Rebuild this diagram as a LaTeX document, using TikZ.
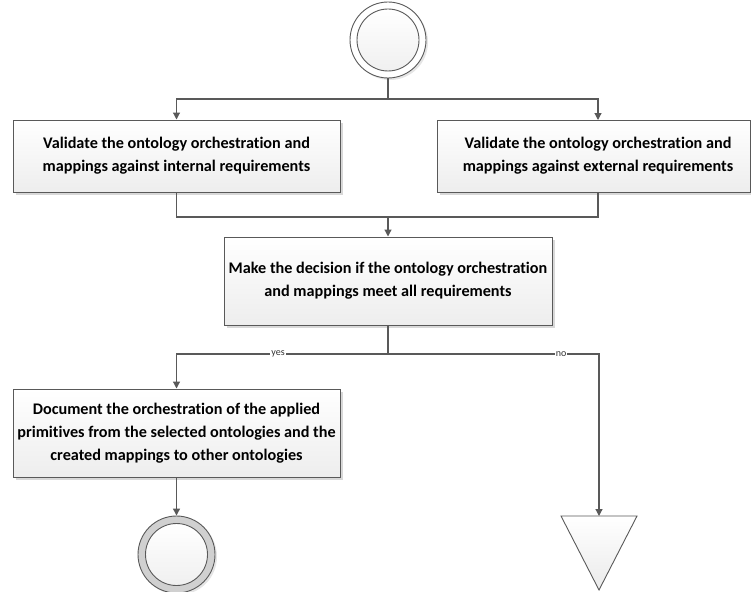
\documentclass[tikz,border=0pt]{standalone}
\usepackage{fontspec}
\setmainfont{Carlito}[Ligatures=NoCommon]
\usetikzlibrary{arrows.meta,shadows}
\definecolor{linegray}{HTML}{595959}
\definecolor{ringgray}{HTML}{D0D0D0}
\begin{document}
\begin{tikzpicture}[x=1pt,y=-1pt,
  line/.style={draw=linegray, line width=1.2pt},
  flow/.style={line, -{Triangle[length=7pt,width=7pt]}},
  task/.style={draw=linegray, line width=1pt,
    top color=white, bottom color=black!7,
    font=\bfseries\fontsize{16.2}{23}\selectfont, align=center, inner sep=0pt,
    drop shadow={shadow xshift=2.5pt, shadow yshift=-2.5pt, fill=black!30, opacity=0.5}},
  disc/.style={circle, draw=linegray, line width=0.9pt, inner sep=0pt},
  edgelabel/.style={font=\fontsize{10}{11}\selectfont, fill=white, inner sep=1pt, text=black!80}
]
\useasboundingbox (0,0) rectangle (751,591);

% initial node
\node[disc, minimum size=76pt, fill=white,
  drop shadow={shadow xshift=2pt, shadow yshift=-2pt, fill=black!25, opacity=0.4}] (start) at (388,40) {};
\node[disc, minimum size=62pt, top color=white, bottom color=black!6] (startin) at (start) {};

% activities
\node[task, minimum width=327pt, minimum height=72pt] (v1) at (176.5,156)
  {Validate the ontology orchestration and\\mappings against internal requirements};
\node[task, minimum width=313pt, minimum height=72pt] (v2) at (593.5,156)
  {\hspace*{9pt}Validate the ontology orchestration and\\\hspace*{9pt}mappings against external requirements};
\node[task, minimum width=328pt, minimum height=88pt] (dec) at (388,281)
  {Make the decision if the ontology orchestration\\and mappings meet all requirements};
\node[task, minimum width=327pt, minimum height=88pt] (doc) at (176.5,433)
  {Document the orchestration of the applied\\primitives from the selected ontologies and the\\created mappings to other ontologies};

% final node
\node[disc, minimum size=77pt, fill=ringgray,
  drop shadow={shadow xshift=2pt, shadow yshift=-2pt, fill=black!25, opacity=0.4}] (final) at (176.5,554.5) {};
\node[disc, minimum size=62pt, top color=white, bottom color=black!6] (finalin) at (final) {};

% flow end
\coordinate (stop) at (599,516);
\draw[draw=linegray, line width=0.9pt, top color=white, bottom color=black!8]
  (561,516) -- (637,516) -- (599,590) -- cycle;

% junction points
\coordinate (fork) at (388,99);
\coordinate (v2in) at (598,120);
\coordinate (v2out) at (598,192);
\coordinate (join) at (388,217);
\coordinate (branch) at (388,354);

% connectors
\draw[line] (start.south) -- (fork);
\draw[flow] (fork) -| (v1.north);
\draw[flow] (fork) -| (v2in);
\draw[line] (v1.south) |- (join);
\draw[line] (v2out) |- (join);
\draw[flow] (join) -- (dec.north);
\draw[line] (dec.south) -- (branch);
\draw[flow] (branch) -| node[edgelabel, pos=0.26] {yes} (doc.north);
\draw[flow] (branch) -| node[edgelabel, pos=0.41] {no} (stop);
\draw[flow] (doc.south) -- (final.north);
\end{tikzpicture}
\end{document}
